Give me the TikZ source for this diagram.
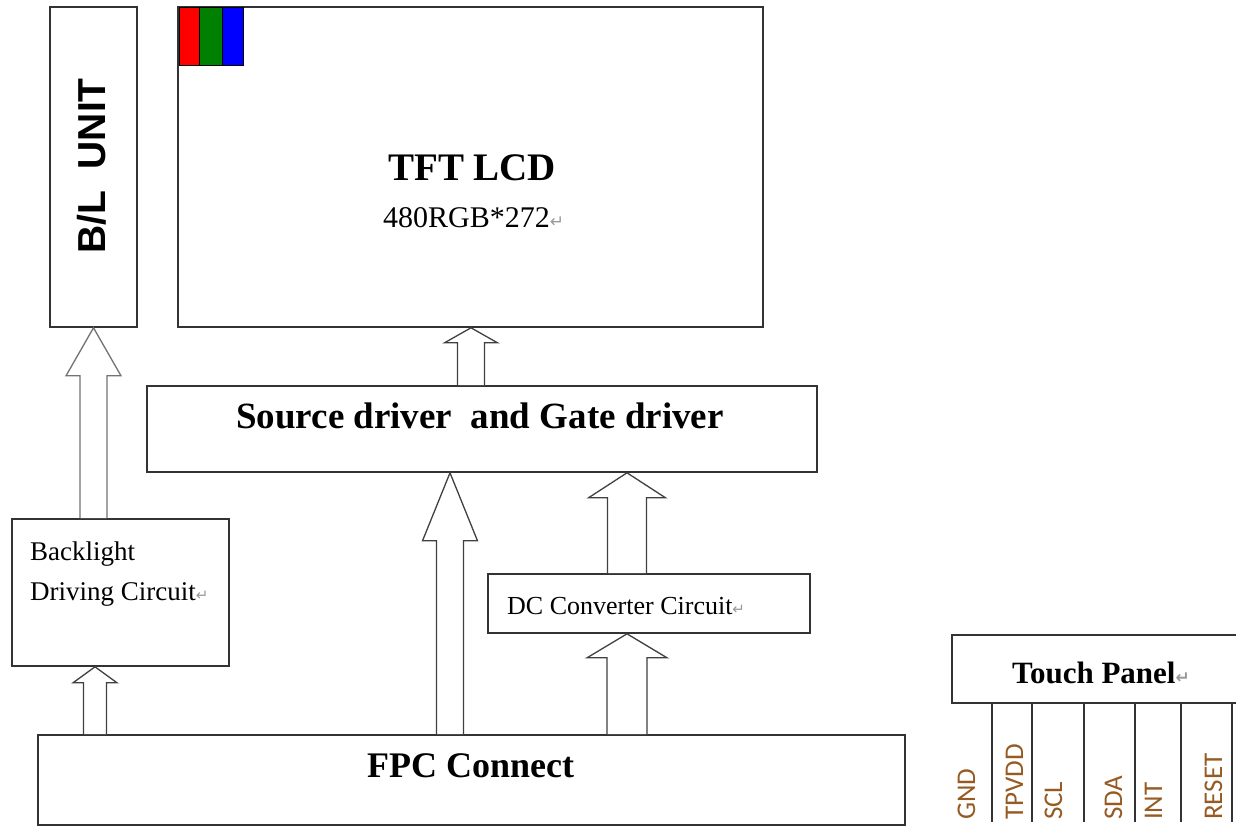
\documentclass[tikz,border=0pt]{standalone}
\usepackage{fontspec}
\setmainfont{Liberation Serif}
\newfontfamily\arialf{Liberation Sans}
\newfontfamily\calib{Carlito}
\newfontfamily\djv{DejaVu Sans}
\usetikzlibrary{calc}
\newcommand\fs[1]{\fontsize{#1}{#1}\selectfont}
\newcommand\retm[1]{{\color{black!40}\fs{#1}\djv ↵}}
\newcommand\blockarr[7]{% #1 style, #2 xc, #3 lower node, #4 upper node, #5 shaft half, #6 head half, #7 head len
  \draw[barrow,#1] let \p1=(#3.north), \p2=(#4.south) in
    (#2pt-#5pt,\y1) -- (#2pt-#5pt,\y2-#7pt) -- (#2pt-#6pt,\y2-#7pt) -- (#2pt,\y2)
    -- (#2pt+#6pt,\y2-#7pt) -- (#2pt+#5pt,\y2-#7pt) -- (#2pt+#5pt,\y1);}
\begin{document}
\begin{tikzpicture}[x=1pt,y=-1pt,
  box/.style={draw=black!80, line width=1.6pt, rectangle, inner sep=0pt},
  barrow/.style={draw=black!75, line width=1.3pt, fill=white, line join=miter},
  lbl/.style={inner sep=0pt, anchor=base west},
  pin/.style={inner sep=0pt, rotate=90, anchor=base west, text={rgb,255:red,150;green,90;blue,35}, font=\calib\fs{27}},
  pinline/.style={draw=black!80, line width=1.3pt},
  sq/.style={draw=black, line width=0.8pt, inner sep=0pt, minimum width=21pt, minimum height=58pt, anchor=north west}
]
\useasboundingbox (0,0) rectangle (1236,827);
% boxes
\node[box, minimum width=87pt, minimum height=320pt] (bl) at (93.5,167) {};
\node[box, minimum width=585pt, minimum height=320pt] (tft) at (470.5,167) {};
\node[box, minimum width=670pt, minimum height=86pt] (src) at (482,429) {};
\node[box, minimum width=217pt, minimum height=147pt] (bld) at (120.5,592.5) {};
\node[box, minimum width=322pt, minimum height=59pt] (dc) at (649,603.5) {};
\node[box, minimum width=867pt, minimum height=90pt] (fpc) at (471.5,780) {};
\node[box, minimum width=290pt, minimum height=68pt] (tp) at (1097,669) {};
% RGB squares
\node[sq, fill={rgb,255:red,255;green,0;blue,0}, minimum width=20pt] (rs) at (179,7) {};
\node[sq, fill={rgb,255:red,0;green,128;blue,0}, minimum width=23pt] (gs) at (199,7) {};
\node[sq, fill={rgb,255:red,0;green,0;blue,255}, minimum width=21pt] (bs) at (222,7) {};
% texts
\node[inner sep=0pt, rotate=90, font=\arialf\bfseries\fs{39}] (blt) at (92,166) {B/L\ \ UNIT};
\node[lbl, font=\bfseries\fs{39}] (tftt) at (388,180) {TFT LCD};
\node[lbl, font=\fs{30}] (res) at (383,227) {480RGB*272\retm{17}};
\node[lbl, font=\bfseries\fs{37}] (srct) at (236,428) {Source driver\ \ and Gate driver};
\node[lbl, font=\fs{27}] (bl1) at (30,560) {Backlight};
\node[lbl, font=\fs{27}] (bl2) at (30,600) {Driving Circuit\retm{15}};
\node[lbl, font=\fs{26}] (dct) at (507,614) {DC Converter Circuit\retm{15}};
\node[lbl, font=\bfseries\fs{36}] (fpct) at (367,777) {FPC Connect};
\node[lbl, font=\bfseries\fs{31}] (tpt) at (1012,683) {Touch Panel\retm{17}};
% block arrows
\blockarr{}{95}{fpc}{bld}{11.5}{22}{16}
\blockarr{draw=black!55}{93.5}{bld}{bl}{13.5}{27.5}{48}
\blockarr{}{471}{src}{tft}{13.5}{26.5}{15}
\blockarr{}{450}{fpc}{src}{13.5}{27.5}{68}
\blockarr{}{627}{dc}{src}{19.5}{38.5}{25}
\blockarr{}{627}{fpc}{dc}{20}{40}{24}
% touch panel pins
\foreach \px in {992,1032,1084,1135,1181,1232}
  \draw[pinline] (\px,0 |- tp.south) -- (\px,822);
\node[pin] (gnd) at (975,820) {GND};
\node[pin] (tpvdd) at (1023,820) {TPVDD};
\node[pin] (scl) at (1062,820) {SCL};
\node[pin] (sda) at (1122,820) {SDA};
\node[pin] (int) at (1162,820) {INT};
\node[pin] (rst) at (1222,820) {RESET};
\end{tikzpicture}
\end{document}
